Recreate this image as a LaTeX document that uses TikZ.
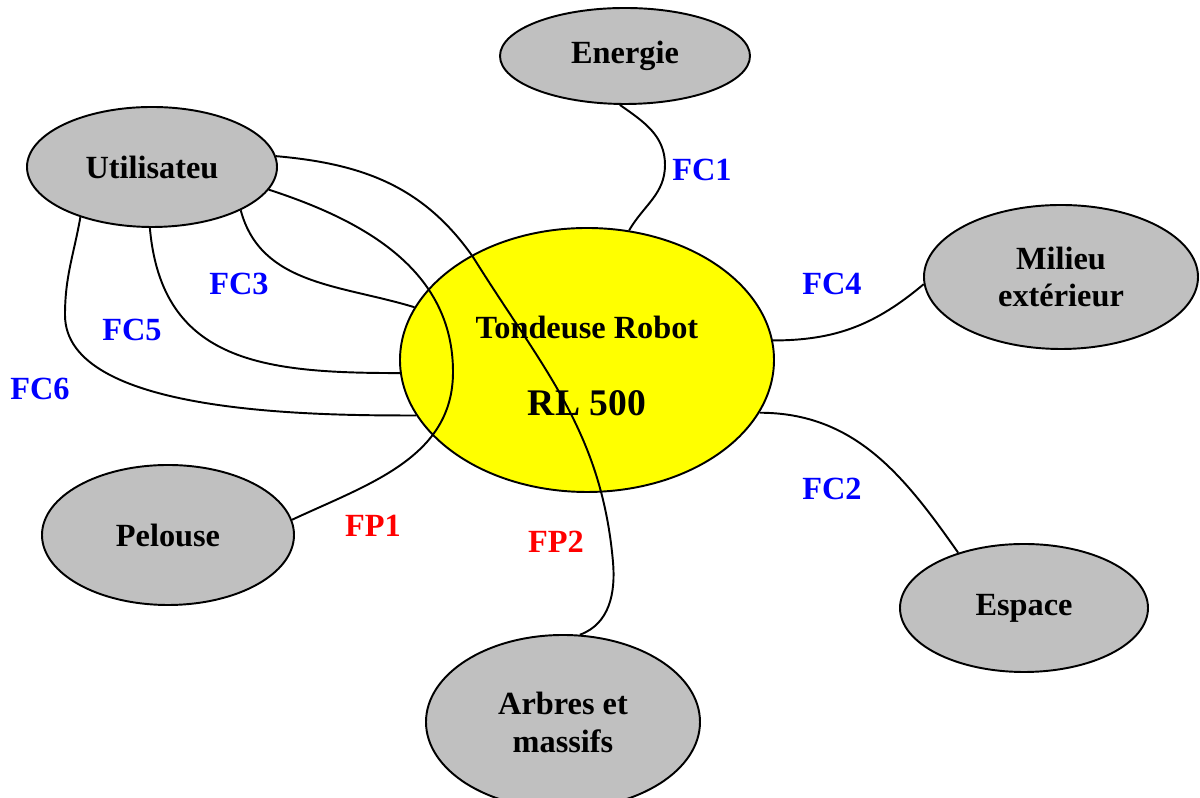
\documentclass[tikz,border=0pt]{standalone}
\usepackage{fontspec}
\setmainfont{Liberation Serif}
\usetikzlibrary{shapes.geometric}
\definecolor{envgray}{RGB}{192,192,192}
\definecolor{robotyellow}{RGB}{255,255,0}

\begin{document}
\begin{tikzpicture}
\tikzstyle{entity}=[draw, ellipse, fill=envgray, inner sep=0pt, line width=0.55pt, align=center, font=\fontsize{9.2}{10.8}\selectfont\bfseries]
\tikzstyle{product}=[entity, fill=robotyellow]
\tikzstyle{link}=[draw, line width=0.55pt]
\tikzstyle{fc}=[text=blue, font=\fontsize{9.2}{10}\selectfont\bfseries]
\tikzstyle{fp}=[text=red, font=\fontsize{9.2}{10}\selectfont\bfseries]

\useasboundingbox (0,0) rectangle (12,-7.98);

% Define environment
\node[product, minimum width=3.74cm, minimum height=2.64cm] (tond) at (5.87,-3.60) {\rule{0pt}{9.7pt}Tondeuse Robot\\[11pt]{\fontsize{10.7}{12}\selectfont RL 500}};
\node[entity, minimum width=2.50cm, minimum height=0.96cm] (energie) at (6.25,-0.56) {Energie};
\node[entity, minimum width=2.50cm, minimum height=1.20cm] (util) at (1.52,-1.67) {Utilisateu};
\node[entity, minimum width=2.74cm, minimum height=1.44cm] (milieu) at (10.61,-2.77) {Milieu\\ext\'erieur};
\node[entity, minimum width=2.52cm, minimum height=1.40cm] (pelouse) at (1.68,-5.35) {Pelouse};
\node[entity, minimum width=2.48cm, minimum height=1.28cm] (espace) at (10.24,-6.08) {Espace};
\node[entity, minimum width=2.74cm, minimum height=1.74cm] (arbres) at (5.63,-7.22) {Arbres et\\massifs};

% Functions
\draw[link] (energie.-96) to[out=-35,in=90] (6.65,-1.65) to[out=-90,in=60] (tond.72);
\draw[link] (tond.6) to[out=0,in=-140] (milieu.183);
\draw[link] (tond.-17) to[out=0,in=125] (espace.140);
\draw[link] (util.5) to[out=-5,in=125] (4.73,-2.57) to[out=-58,in=95] (6.13,-5.62) to[out=-85,in=20] (arbres.79);
\draw[link] (util.-11) to[out=-18,in=90] (4.53,-3.72) to[out=-90,in=25] (pelouse.7);
\draw[link] (util.-26) to[out=-75,in=163] (tond.163);
\draw[link] (util.-92) to[out=-85,in=180,looseness=1.2] (tond.-176);
\draw[link] (util.-145) to[out=-100,in=90] (0.65,-3.15) to[out=-90,in=180,looseness=0.7] (tond.-162);

% Labels
\node[fc] (fc1) at (7.02,-1.70) {FC1};
\node[fc] (fc4) at (8.32,-2.84) {FC4};
\node[fc] (fc3) at (2.39,-2.84) {FC3};
\node[fc] (fc5) at (1.32,-3.30) {FC5};
\node[fc] (fc6) at (0.40,-3.89) {FC6};
\node[fc] (fc2) at (8.32,-4.89) {FC2};
\node[fp] (fp1) at (3.73,-5.26) {FP1};
\node[fp] (fp2) at (5.56,-5.42) {FP2};
\end{tikzpicture}
\end{document}
